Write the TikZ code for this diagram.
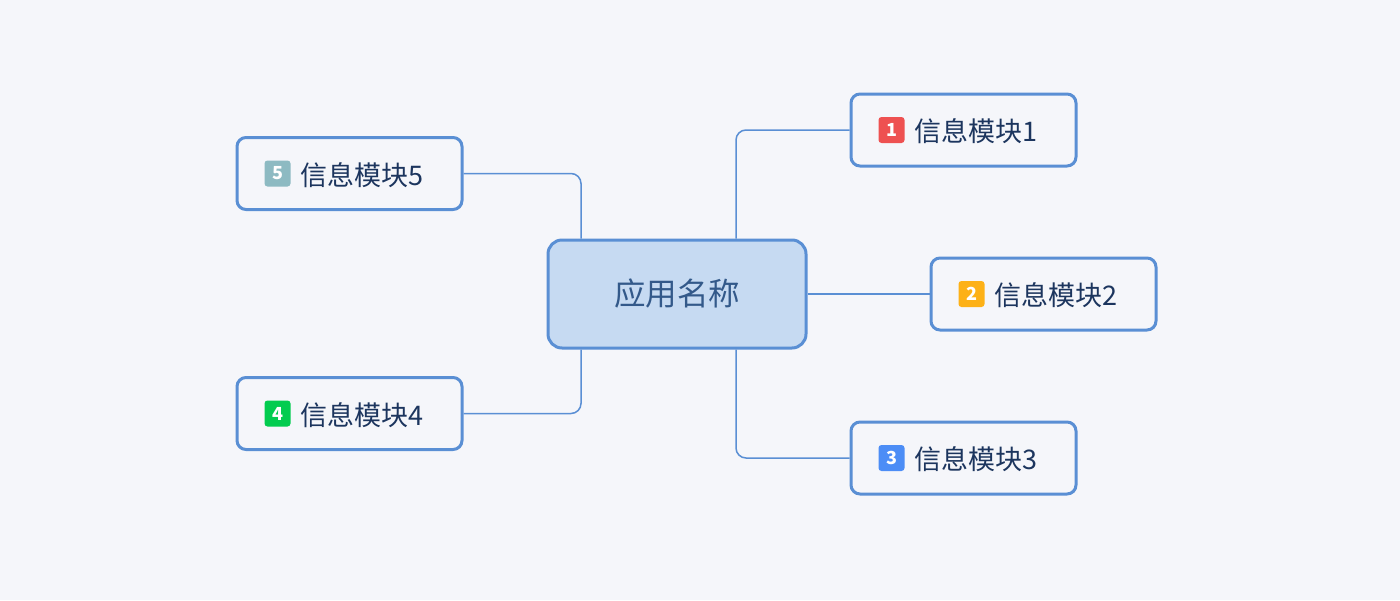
\documentclass[tikz,border=0pt]{standalone}
\usepackage{fontspec}
\setmainfont{Noto Sans CJK SC}
\definecolor{bgc}{HTML}{F5F6FA}
\definecolor{bordc}{HTML}{5A8FD4}
\definecolor{rootfill}{HTML}{C6DAF2}
\definecolor{roottext}{HTML}{33598A}
\definecolor{childtext}{HTML}{1C355E}
\definecolor{bone}{HTML}{EE5151}
\definecolor{btwo}{HTML}{FDB117}
\definecolor{bthree}{HTML}{4C8DF6}
\definecolor{bfour}{HTML}{02CC4F}
\definecolor{bfive}{HTML}{8DBAC2}
\tikzset{
  rootbox/.style={draw=bordc, line width=3pt, fill=rootfill, rounded corners=14pt,
    minimum width=258pt, minimum height=108pt, inner sep=0pt,
    font=\fontsize{31.5}{36}\selectfont, text=roottext},
  childbox/.style={draw=bordc, line width=3pt, fill=bgc, rounded corners=9pt,
    minimum width=225pt, minimum height=72pt, inner sep=0pt},
  childtxt/.style={anchor=west, inner sep=0pt, font=\fontsize{27}{30}\selectfont, text=childtext},
  badge/.style={fill=#1, rounded corners=3pt, minimum size=26pt, inner sep=0pt,
    text=white, font=\fontsize{18}{20}\selectfont\bfseries},
  conn/.style={draw=bordc, line width=1.5pt, rounded corners=10pt}
}
\begin{document}
\begin{tikzpicture}[x=1pt,y=-1pt]
\fill[bgc] (0,0) rectangle (1400,600);
\useasboundingbox (0,0) rectangle (1400,600);
% boxes
\node[rootbox] (c) at (677,294) {应用名称};
\node[childbox] (n1) at (963.5,130) {};
\node[childbox] (n2) at (1043.5,294) {};
\node[childbox] (n3) at (963.5,458) {};
\node[childbox] (n5) at (349.5,173.5) {};
\node[childbox] (n4) at (349.5,413.5) {};
% connectors
\draw[conn] ([xshift=59pt]c.north) |- (n1.west);
\draw[conn] (c.east) -- (n2.west);
\draw[conn] ([xshift=59pt]c.south) |- (n3.west);
\draw[conn] ([xshift=-96pt]c.north) |- (n5.east);
\draw[conn] ([xshift=-96pt]c.south) |- (n4.east);
% badges and labels
\node[badge=bone] (b1) at ([xshift=42pt]n1.west) {1};
\node[childtxt] (t1) at ([xshift=64.5pt,yshift=-1.5pt]n1.west) {信息模块1};
\node[badge=btwo] (b2) at ([xshift=42pt]n2.west) {2};
\node[childtxt] (t2) at ([xshift=64.5pt,yshift=-1.5pt]n2.west) {信息模块2};
\node[badge=bthree] (b3) at ([xshift=42pt]n3.west) {3};
\node[childtxt] (t3) at ([xshift=64.5pt,yshift=-1.5pt]n3.west) {信息模块3};
\node[badge=bfour] (b4) at ([xshift=42pt]n4.west) {4};
\node[childtxt] (t4) at ([xshift=64.5pt,yshift=-1.5pt]n4.west) {信息模块4};
\node[badge=bfive] (b5) at ([xshift=42pt]n5.west) {5};
\node[childtxt] (t5) at ([xshift=64.5pt,yshift=-1.5pt]n5.west) {信息模块5};
\end{tikzpicture}
\end{document}
